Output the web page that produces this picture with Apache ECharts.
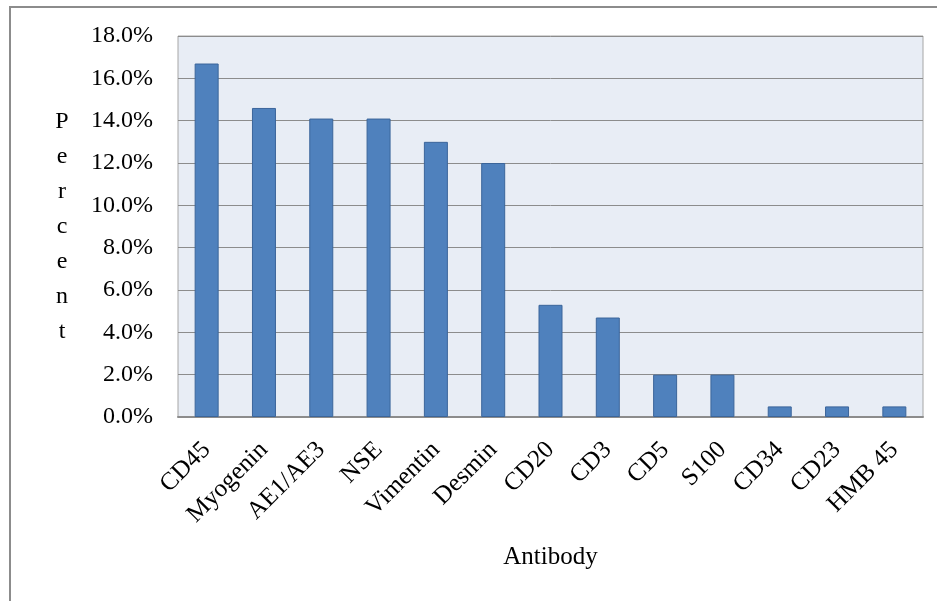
<!DOCTYPE html>
<html>
<head>
<meta charset="utf-8">
<script src="https://cdn.jsdelivr.net/npm/echarts@6/dist/echarts.min.js"></script>
<style>
    html, body { margin: 0; padding: 0; background: #fff; }
    #chart { width: 937px; height: 601px; }
</style>
</head>
<body>
<div id="chart"></div>
<script>
var antibodies = ['CD45', 'Myogenin', 'AE1/AE3', 'NSE', 'Vimentin', 'Desmin', 'CD20', 'CD3', 'CD5', 'S100', 'CD34', 'CD23', 'HMB 45'];
var percents = [16.7, 14.6, 14.1, 14.1, 13.0, 12.0, 5.3, 4.7, 2.0, 2.0, 0.5, 0.5, 0.5];

var font = 'Liberation Serif';

var option = {
    animation: false,
    textStyle: { fontFamily: font },
    graphic: [{
        type: 'rect',
        shape: { x: 10, y: 7, width: 940, height: 610 },
        style: { fill: 'none', stroke: '#8c8c8c', lineWidth: 2 },
        silent: true
    }],
    grid: {
        left: 178,
        right: 14,
        top: 36,
        bottom: 184,
        show: true,
        backgroundColor: '#e8edf5',
        borderColor: '#a6a6a6',
        borderWidth: 1
    },
    xAxis: {
        type: 'category',
        data: antibodies,
        name: 'Antibody',
        nameLocation: 'middle',
        nameGap: 128,
        nameTextStyle: { fontFamily: font, fontSize: 25, color: '#000' },
        axisLine: { lineStyle: { color: '#8c8c8c', width: 2 } },
        axisTick: { show: false },
        axisLabel: {
            interval: 0,
            rotate: 45,
            margin: 29,
            fontFamily: font,
            fontSize: 25,
            color: '#000'
        }
    },
    yAxis: {
        type: 'value',
        min: 0,
        max: 18,
        interval: 2,
        name: 'P\ne\nr\nc\ne\nn\nt',
        nameLocation: 'middle',
        nameRotate: 0,
        nameGap: 116,
        nameTextStyle: { fontFamily: font, fontSize: 24, color: '#000', align: 'center', lineHeight: 35 },
        axisLine: { show: false },
        axisTick: { show: false },
        splitLine: { lineStyle: { color: '#8c8c8c', width: 1 } },
        axisLabel: {
            margin: 25,
            fontFamily: font,
            fontSize: 24,
            color: '#000',
            formatter: function (v) { return v.toFixed(1) + '%'; }
        }
    },
    series: [{
        type: 'bar',
        data: percents,
        barWidth: 24,
        itemStyle: { color: '#4f81bd', borderColor: '#3b659a', borderWidth: 1 }
    }]
};

var chart = echarts.init(document.getElementById('chart'));
chart.setOption(option);
</script>
</body>
</html>
